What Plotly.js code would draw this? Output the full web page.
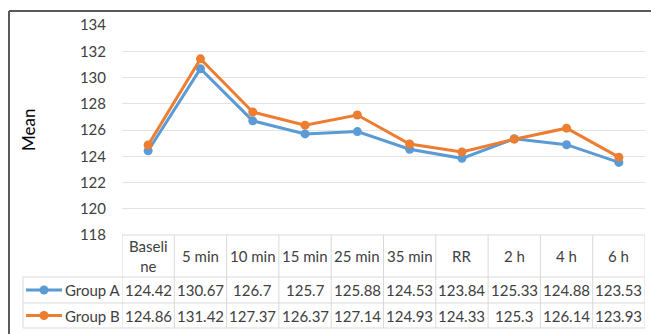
<!DOCTYPE html>
<html>
<head>
<meta charset="utf-8">
<script src="https://cdn.plot.ly/plotly-3.0.1.min.js"></script>
<style>html,body{margin:0;padding:0;background:#fff;}#chart{width:651px;height:334px;}</style>
</head>
<body>
<div id="chart"></div>
<script>
const categories = ["Baseline", "5 min", "10 min", "15 min", "25 min", "35 min", "RR", "2 h", "4 h", "6 h"];
const headerLabels = ["Baseli<br>ne", "5 min", "10 min", "15 min", "25 min", "35 min", "RR", "2 h", "4 h", "6 h"];
const groupA = [124.42, 130.67, 126.7, 125.7, 125.88, 124.53, 123.84, 125.33, 124.88, 123.53];
const groupB = [124.86, 131.42, 127.37, 126.37, 127.14, 124.93, 124.33, 125.3, 126.14, 123.93];
const seriesNames = ["Group A", "Group B"];
const seriesColors = ["#5b9bd5", "#ed7d31"];

const W = 651, H = 334;
const M = {l: 122, r: 6, t: 25, b: 99};
const plotW = W - M.l - M.r, plotH = H - M.t - M.b;
const px = p => (p - M.l) / plotW;
const py = p => (H - M.b - p) / plotH;

const font = "Lato, 'Open Sans', sans-serif";
const txtCol = "#404040";
const gridCol = "#d9d9d9";
const idx = categories.map((_, i) => i);

const traces = [groupA, groupB].map((vals, s) => ({
  type: "scatter", mode: "lines+markers",
  x: idx, y: vals, name: seriesNames[s],
  line: {color: seriesColors[s], width: 3},
  marker: {color: seriesColors[s], size: 9},
  cliponaxis: false, showlegend: false, hoverinfo: "skip"
}));

const shapes = [];
const annotations = [];
const rowTop = py(235), rowH = py(277), rowA = py(303), rowB = py(328);
const legLeft = px(23);

shapes.push({type: "line", xref: "x", yref: "paper", x0: -0.5, x1: 9.5, y0: rowTop, y1: rowTop, line: {color: gridCol, width: 1}});
[rowH, rowA, rowB].forEach(y => shapes.push({type: "line", xref: "paper", yref: "paper", x0: legLeft, x1: 1, y0: y, y1: y, line: {color: gridCol, width: 1}}));
for (let i = 0; i <= categories.length; i++) {
  shapes.push({type: "line", xref: "x", yref: "paper", x0: i - 0.5, x1: i - 0.5, y0: rowTop, y1: rowB, line: {color: gridCol, width: 1}});
}
shapes.push({type: "line", xref: "paper", yref: "paper", x0: legLeft, x1: legLeft, y0: rowH, y1: rowB, line: {color: gridCol, width: 1}});

headerLabels.forEach((t, i) => annotations.push({xref: "x", yref: "paper", x: i, y: (rowTop + rowH) / 2, text: t, showarrow: false, font: {family: font, size: 15, color: txtCol}, xanchor: "center", yanchor: "middle"}));
const rowYs = [(rowH + rowA) / 2, (rowA + rowB) / 2];
[groupA, groupB].forEach((vals, s) => {
  vals.forEach((v, i) => annotations.push({xref: "x", yref: "paper", x: i, y: rowYs[s], text: String(v), showarrow: false, font: {family: font, size: 15, color: txtCol}, xanchor: "center", yanchor: "middle"}));
  shapes.push({type: "line", xref: "paper", yref: "paper", x0: px(26), x1: px(62), y0: rowYs[s], y1: rowYs[s], line: {color: seriesColors[s], width: 3}});
  shapes.push({type: "circle", xref: "paper", yref: "paper", xsizemode: "pixel", ysizemode: "pixel", xanchor: px(44), yanchor: rowYs[s], x0: -4.5, x1: 4.5, y0: -4.5, y1: 4.5, fillcolor: seriesColors[s], line: {width: 0}});
  annotations.push({xref: "paper", yref: "paper", x: px(63), y: rowYs[s], text: seriesNames[s], showarrow: false, font: {family: font, size: 15, color: txtCol}, xanchor: "left", yanchor: "middle"});
});

annotations.push({xref: "paper", yref: "paper", x: px(28), y: 0.5, text: "Mean", textangle: -90, showarrow: false, font: {family: font, size: 17, color: "#000"}, xanchor: "center", yanchor: "middle"});

shapes.push({type: "line", xref: "paper", yref: "paper", x0: px(9), x1: px(660), y0: py(11), y1: py(11), line: {color: "#595959", width: 2}});
shapes.push({type: "line", xref: "paper", yref: "paper", x0: px(9), x1: px(9), y0: py(11), y1: py(345), line: {color: "#595959", width: 2}});

const layout = {
  width: W, height: H,
  margin: M,
  paper_bgcolor: "#fff", plot_bgcolor: "#fff",
  font: {family: font, size: 15, color: txtCol},
  xaxis: {type: "linear", range: [-0.5, 9.5], showticklabels: false, showgrid: false, zeroline: false, showline: false, fixedrange: true},
  yaxis: {range: [118, 134], dtick: 2, tick0: 118, showgrid: true, gridcolor: "#e3e3e3", gridwidth: 1, zeroline: false, showline: false,
          tickfont: {family: font, size: 15, color: txtCol}, ticks: "outside", ticklen: 12, tickcolor: "rgba(0,0,0,0)", fixedrange: true},
  shapes: shapes,
  annotations: annotations,
  showlegend: false
};

Plotly.newPlot("chart", traces, layout, {displayModeBar: false, staticPlot: true});
</script>
</body>
</html>
